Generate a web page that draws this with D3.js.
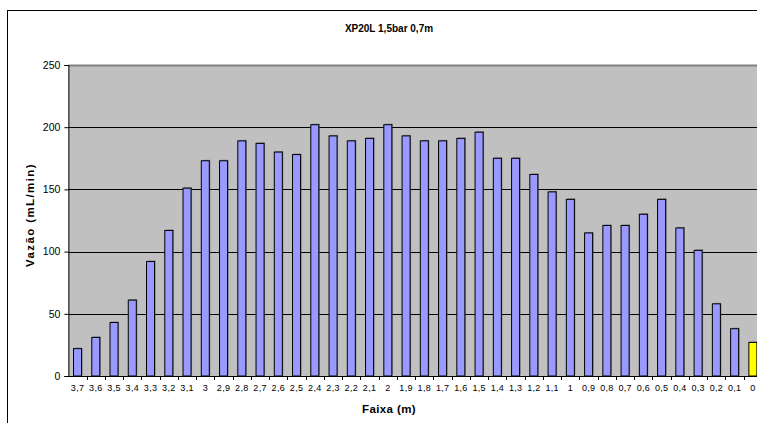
<!DOCTYPE html>
<html><head><meta charset="utf-8">
<script src="https://cdn.jsdelivr.net/npm/d3@7"></script>
<style>body{margin:0;background:#fff;} svg{display:block;} text{font-family:"Liberation Sans",Arial,sans-serif;}</style>
</head><body>
<svg id="c" width="757" height="423"></svg>
<script>
const categories = ["3,7","3,6","3,5","3,4","3,3","3,2","3,1","3","2,9","2,8","2,7","2,6","2,5","2,4","2,3","2,2","2,1","2","1,9","1,8","1,7","1,6","1,5","1,4","1,3","1,2","1,1","1","0,9","0,8","0,7","0,6","0,5","0,4","0,3","0,2","0,1","0"];
const values = [22,31,43,61,92,117,151,173,173,189,187,180,178,202,193,189,191,202,193,189,189,191,196,175,175,162,148,142,115,121,121,130,142,119,101,58,38,27];
const yTicks = [0,50,100,150,200,250];
const title = "XP20L 1,5bar 0,7m";
const xTitle = "Faixa (m)";
const yTitle = "Vazão (mL/min)";

const svg = d3.select("#c");
const L = 68.4, R = 762, T = 65, B = 376;

// outer border
svg.append("rect").attr("x",7.5).attr("y",10.5).attr("width",800).attr("height",500)
  .attr("fill","#fff").attr("stroke","#000").attr("stroke-width",1);

const x = d3.scaleBand().domain(categories).range([L,R]).paddingInner(0.56).paddingOuter(0.28);
const y = d3.scaleLinear().domain([0,250]).range([B,T]);

svg.append("rect").attr("x",L).attr("y",T).attr("width",R-L).attr("height",B-T).attr("fill","#c0c0c0");

// gridlines
svg.append("g").selectAll("line").data(yTicks.filter(d=>d>0&&d<250)).join("line")
  .attr("x1",L).attr("x2",R).attr("y1",d=>Math.round(y(d))+0.5).attr("y2",d=>Math.round(y(d))+0.5)
  .attr("stroke","#000").attr("stroke-width",1);
svg.append("line").attr("x1",L).attr("x2",R).attr("y1",T+0.5).attr("y2",T+0.5).attr("stroke","#808080").attr("stroke-width",2);

const data = categories.map((c,i)=>({c, v: values[i]}));
// shadows
svg.append("g").selectAll("rect").data(data).join("rect")
  .attr("x",d=>x(d.c)+1).attr("y",d=>y(d.v)-1).attr("width",x.bandwidth()).attr("height",d=>B-y(d.v))
  .attr("fill","#555").attr("opacity",0.6);
svg.append("g").selectAll("rect").data(data).join("rect")
  .attr("x",d=>x(d.c)).attr("y",d=>y(d.v)).attr("width",x.bandwidth()).attr("height",d=>B-y(d.v))
  .attr("fill",d=>d.c==="0"?"#ffff00":"#9999ff").attr("stroke","#000").attr("stroke-width",1);

// y axis
const ya = svg.append("g").attr("transform",`translate(${L},0)`)
  .call(d3.axisLeft(y).tickValues(yTicks).tickSize(4).tickPadding(4).tickFormat(d3.format("d")));
ya.select(".domain").attr("stroke","#000");
ya.selectAll("text").attr("font-size",10.5).attr("fill","#000");

// x axis
const xa = svg.append("g").attr("transform",`translate(0,${B})`)
  .call(d3.axisBottom(x).tickSize(0).tickPadding(9));
xa.select(".domain").attr("stroke","#000");
xa.selectAll("text").attr("font-size",9).attr("fill","#000").attr("letter-spacing",0.3);
const step = x.step();
svg.append("g").selectAll("line").data(categories.slice(1)).join("line")
  .attr("x1",d=>Math.round(x(d)-step*0.28)+0.5).attr("x2",d=>Math.round(x(d)-step*0.28)+0.5)
  .attr("y1",B).attr("y2",B+4).attr("stroke","#000");

svg.append("text").attr("x",389).attr("y",32).attr("text-anchor","middle")
  .attr("font-size",10).attr("font-weight","bold").text(title);
svg.append("text").attr("x",389).attr("y",413).attr("text-anchor","middle")
  .attr("font-size",11.5).attr("font-weight","bold").attr("letter-spacing",0.4).text(xTitle);
svg.append("text").attr("transform","translate(34,215) rotate(-90)").attr("text-anchor","middle")
  .attr("font-size",11.5).attr("font-weight","bold").attr("letter-spacing",1.4).text(yTitle);
</script>
</body></html>
